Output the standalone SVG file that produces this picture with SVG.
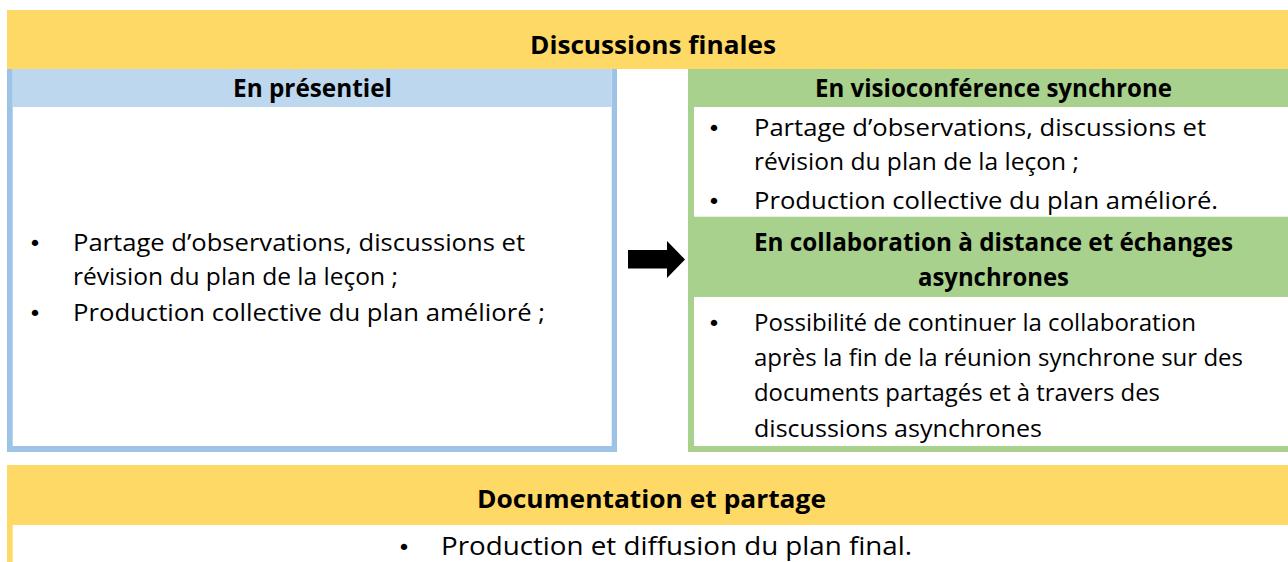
<svg xmlns="http://www.w3.org/2000/svg" width="1288" height="562" viewBox="0 0 1288 562">
<style>
.yel{fill:#FFD966}
.blu{fill:#9DC3E6}
.bluh{fill:#BDD7EE}
.grn{fill:#A9D18E}
.wht{fill:#FFFFFF}
.h{font-family:"Open Sans",Lato,"Liberation Sans",sans-serif;font-weight:bold;font-size:25px;fill:#000}
.t{font-family:"Open Sans",Lato,"Liberation Sans",sans-serif;font-size:23.5px;fill:#000}
.tb{font-family:"Open Sans",Lato,"Liberation Sans",sans-serif;font-size:25.5px;fill:#000}
.b{font-family:"DejaVu Sans",sans-serif;font-size:22px;fill:#000;text-anchor:middle}
</style>
<rect x="0" y="0" width="1288" height="562" fill="#FFFFFF"/>
<g id="discussions-finales">
<rect class="yel" x="7" y="10" width="1281" height="59"/>
<text class="h" x="530" y="54" textLength="246" lengthAdjust="spacingAndGlyphs">Discussions finales</text>
</g>
<g id="en-presentiel">
<rect class="blu" x="7" y="69" width="610" height="383"/>
<rect class="wht" x="12.7" y="69" width="599" height="377"/>
<rect class="bluh" x="12.7" y="69" width="599" height="38"/>
<text class="h" x="233" y="97" textLength="159" lengthAdjust="spacingAndGlyphs">En présentiel</text>
<text class="b" x="35" y="251">•</text>
<text class="t" x="73" y="251" textLength="452" lengthAdjust="spacingAndGlyphs">Partage d’observations, discussions et</text>
<text class="t" x="73" y="285" textLength="325" lengthAdjust="spacingAndGlyphs">révision du plan de la leçon ;</text>
<text class="b" x="35" y="321">•</text>
<text class="t" x="73" y="321" textLength="472" lengthAdjust="spacingAndGlyphs">Production collective du plan amélioré ;</text>
</g>
<g id="distance">
<rect class="grn" x="688" y="69" width="600" height="383"/>
<rect class="wht" x="694" y="107" width="594" height="109.7"/>
<rect class="wht" x="694" y="297" width="594" height="149"/>
<g id="visio">
<text class="h" x="815" y="97" textLength="357" lengthAdjust="spacingAndGlyphs">En visioconférence synchrone</text>
<text class="b" x="714" y="136">•</text>
<text class="t" x="754" y="136" textLength="452" lengthAdjust="spacingAndGlyphs">Partage d’observations, discussions et</text>
<text class="t" x="754" y="170" textLength="325" lengthAdjust="spacingAndGlyphs">révision du plan de la leçon ;</text>
<text class="b" x="714" y="209">•</text>
<text class="t" x="754" y="209" textLength="464" lengthAdjust="spacingAndGlyphs">Production collective du plan amélioré.</text>
</g>
<g id="asynchrone">
<text class="h" x="754" y="251" textLength="479" lengthAdjust="spacingAndGlyphs">En collaboration à distance et échanges</text>
<text class="h" x="918" y="286" textLength="151" lengthAdjust="spacingAndGlyphs">asynchrones</text>
<text class="b" x="714" y="331">•</text>
<text class="t" x="754" y="331" textLength="442" lengthAdjust="spacingAndGlyphs">Possibilité de continuer la collaboration</text>
<text class="t" x="754" y="366" textLength="489" lengthAdjust="spacingAndGlyphs">après la fin de la réunion synchrone sur des</text>
<text class="t" x="754" y="401" textLength="406" lengthAdjust="spacingAndGlyphs">documents partagés et à travers des</text>
<text class="t" x="754" y="437" textLength="288" lengthAdjust="spacingAndGlyphs">discussions asynchrones</text>
</g>
</g>
<g id="connectors">
<polygon points="628,250 667,250 667,241 685,259.5 667,278 667,268.5 628,268.5" fill="#000"/>
</g>
<g id="documentation">
<rect class="yel" x="7" y="465" width="1281" height="60"/>
<rect class="yel" x="7" y="525" width="5.7" height="37"/>
<text class="h" x="477" y="508" textLength="349" lengthAdjust="spacingAndGlyphs">Documentation et partage</text>
<text class="b" x="404" y="555">•</text>
<text class="tb" x="441" y="555" textLength="471" lengthAdjust="spacingAndGlyphs">Production et diffusion du plan final.</text>
</g>
</svg>
